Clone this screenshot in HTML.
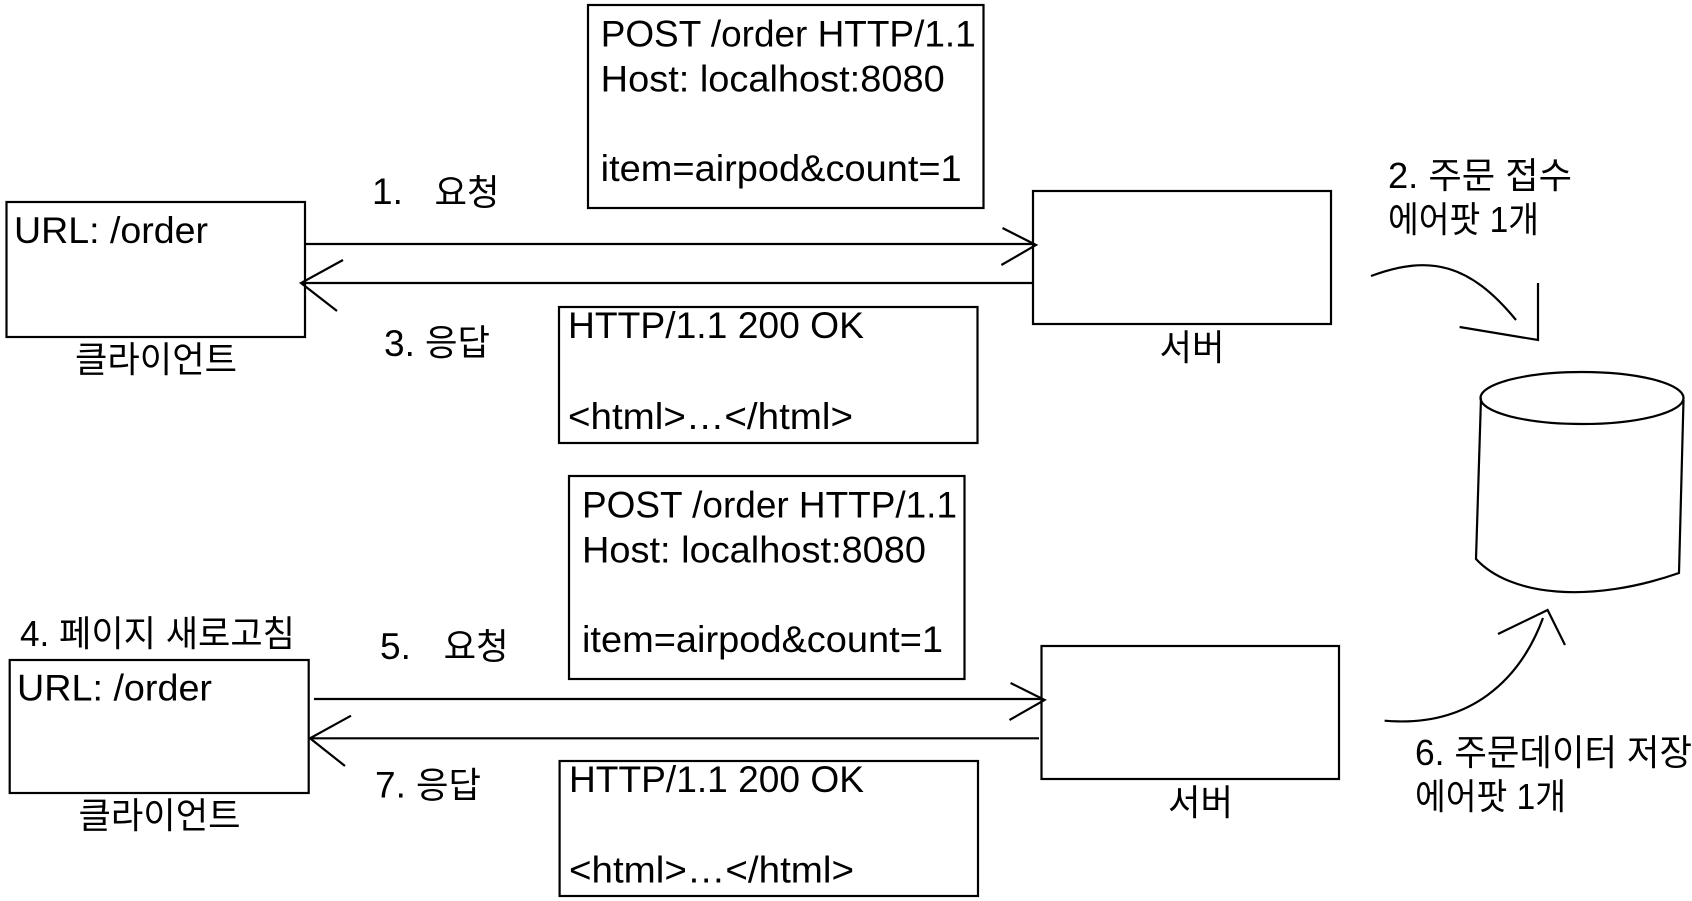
<!DOCTYPE html>
<html lang="ko">
<head>
<meta charset="utf-8">
<title>PRG diagram</title>
<style>
html,body{margin:0;padding:0;background:#fff;width:1692px;height:901px;overflow:hidden}
svg{display:block}
text{font-family:"Liberation Sans","Noto Sans CJK KR",sans-serif;font-size:37px;fill:#000}
.k{font-size:36px}
.s{fill:#fff;stroke:#000;stroke-width:2.2}
.l{fill:none;stroke:#000;stroke-width:2.2}
</style>
</head>
<body>
<svg width="1692" height="901" viewBox="0 0 1692 901" xmlns="http://www.w3.org/2000/svg">
<!-- Boxes -->
<rect class="s" x="6.5" y="202" width="298.5" height="135"/>
<rect class="s" x="588" y="5" width="395.5" height="203"/>
<rect class="s" x="559" y="307" width="418.5" height="136"/>
<rect class="s" x="1033" y="191" width="298" height="133"/>
<rect class="s" x="9.7" y="660" width="299" height="133"/>
<rect class="s" x="569" y="476" width="395.5" height="203"/>
<rect class="s" x="559.6" y="761" width="418.4" height="135"/>
<rect class="s" x="1041.5" y="646" width="297.5" height="133"/>

<!-- Upper connectors -->
<path class="l" d="M305 244H1034"/>
<path class="l" d="M1002.5 228L1036 245L1001.4 265"/>
<path class="l" d="M1032 283H302"/>
<path class="l" d="M343 260L301 283L337 311"/>

<!-- Lower connectors -->
<path class="l" d="M314 699H1042"/>
<path class="l" d="M1010.6 683L1044.6 700L1009.5 720"/>
<path class="l" d="M1039 738.3H310"/>
<path class="l" d="M351 715.7L310 738.3L345 766"/>

<!-- Curves to / from DB -->
<path class="l" d="M1371 276C1430 254 1470 264 1516 320"/>
<path class="l" d="M1538 283V340L1459.6 327"/>
<path class="l" d="M1384.6 720.7C1470 728 1520 680 1543 618"/>
<path class="l" d="M1498 634L1547.6 610L1565 645"/>

<!-- Cylinder -->
<ellipse class="l" cx="1582" cy="398" rx="101.5" ry="26"/>
<path class="l" d="M1481 398L1476 559C1510 596 1590 604 1679 573L1683.5 400"/>

<!-- Upper text -->
<text x="600.7" y="46.7" textLength="375" lengthAdjust="spacingAndGlyphs">POST /order HTTP/1.1</text>
<text x="600.7" y="91.7" textLength="344" lengthAdjust="spacingAndGlyphs">Host: localhost:8080</text>
<text x="600.7" y="181" textLength="361" lengthAdjust="spacingAndGlyphs">item=airpod&amp;count=1</text>
<text x="14" y="243" textLength="194" lengthAdjust="spacingAndGlyphs">URL: /order</text>
<text x="568" y="338" textLength="296" lengthAdjust="spacingAndGlyphs">HTTP/1.1 200 OK</text>
<text x="568" y="429" textLength="285" lengthAdjust="spacingAndGlyphs">&lt;html&gt;…&lt;/html&gt;</text>
<text x="372" y="204">1.</text>
<text class="k" x="434.5" y="205" textLength="65" lengthAdjust="spacingAndGlyphs">요청</text>
<text x="384" y="356">3.</text>
<text class="k" x="425" y="355" textLength="65" lengthAdjust="spacingAndGlyphs">응답</text>
<text class="k" x="75" y="372" textLength="162" lengthAdjust="spacingAndGlyphs">클라이언트</text>
<text class="k" x="1159.5" y="360" textLength="65" lengthAdjust="spacingAndGlyphs">서버</text>
<text class="k" x="1388" y="188" textLength="184" lengthAdjust="spacingAndGlyphs">2. 주문 접수</text>
<text class="k" x="1388" y="232" textLength="151" lengthAdjust="spacingAndGlyphs">에어팟 1개</text>

<!-- Lower text -->
<text x="582" y="517.7" textLength="375" lengthAdjust="spacingAndGlyphs">POST /order HTTP/1.1</text>
<text x="582" y="562.7" textLength="344" lengthAdjust="spacingAndGlyphs">Host: localhost:8080</text>
<text x="582" y="652" textLength="361" lengthAdjust="spacingAndGlyphs">item=airpod&amp;count=1</text>
<text x="17" y="700.7" textLength="195" lengthAdjust="spacingAndGlyphs">URL: /order</text>
<text x="569" y="792" textLength="295" lengthAdjust="spacingAndGlyphs">HTTP/1.1 200 OK</text>
<text x="569" y="882.7" textLength="285" lengthAdjust="spacingAndGlyphs">&lt;html&gt;…&lt;/html&gt;</text>
<text class="k" x="20" y="646" textLength="275" lengthAdjust="spacingAndGlyphs">4. 페이지 새로고침</text>
<text x="380" y="659">5.</text>
<text class="k" x="443.6" y="659" textLength="65" lengthAdjust="spacingAndGlyphs">요청</text>
<text x="375" y="797.7">7.</text>
<text class="k" x="416" y="797.7" textLength="65" lengthAdjust="spacingAndGlyphs">응답</text>
<text class="k" x="78.5" y="828" textLength="162" lengthAdjust="spacingAndGlyphs">클라이언트</text>
<text class="k" x="1168" y="815" textLength="65" lengthAdjust="spacingAndGlyphs">서버</text>
<text class="k" x="1415" y="765" textLength="277" lengthAdjust="spacingAndGlyphs">6. 주문데이터 저장</text>
<text class="k" x="1415" y="809" textLength="151" lengthAdjust="spacingAndGlyphs">에어팟 1개</text>
</svg>
</body>
</html>
